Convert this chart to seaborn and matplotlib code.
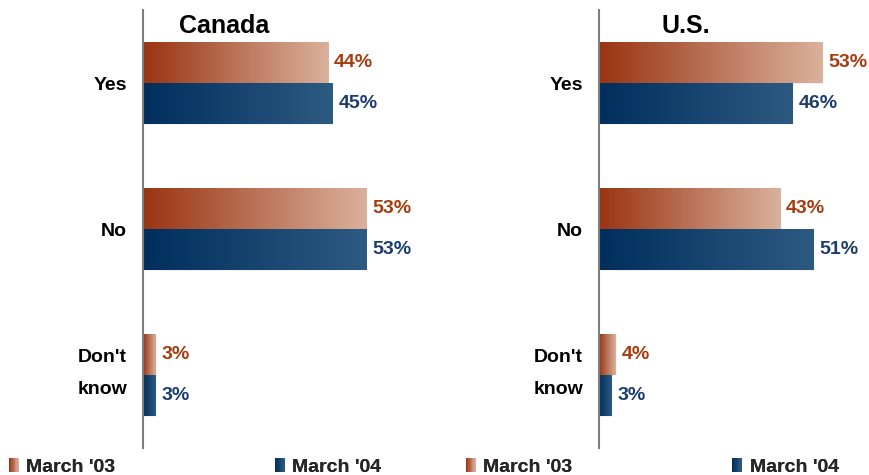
import numpy as np
import pandas as pd
import seaborn as sns
import matplotlib
matplotlib.use("Agg")
import matplotlib.pyplot as plt
import matplotlib.transforms as mtransforms
from matplotlib.colors import LinearSegmentedColormap
from matplotlib.patches import Rectangle, Patch
from matplotlib.legend_handler import HandlerBase

# dati
categorie = ["Yes", "No", "Don't\nknow"]
serie = ["March '03", "March '04"]
canada_03 = [44, 53, 3]
canada_04 = [45, 53, 3]
us_03 = [53, 43, 4]
us_04 = [46, 51, 3]
paesi = ["Canada", "U.S."]

# colori sfumati (inizio, fine) per ogni serie
arancio = ("#9a3412", "#dab19c")
blu = ("#002f5e", "#2d5a81")
col_testo = {"March '03": "#a63c0e", "March '04": "#1b3d6d"}
sfumature = {"March '03": arancio, "March '04": blu}

sns.set_theme(style="white")
plt.rcParams['font.family'] = ['Liberation Sans', 'DejaVu Sans']
plt.rcParams['font.weight'] = 'bold'

df = pd.concat([
    pd.DataFrame({"paese": "Canada", "risposta": categorie, "serie": serie[0], "valore": canada_03}),
    pd.DataFrame({"paese": "Canada", "risposta": categorie, "serie": serie[1], "valore": canada_04}),
    pd.DataFrame({"paese": "U.S.", "risposta": categorie, "serie": serie[0], "valore": us_03}),
    pd.DataFrame({"paese": "U.S.", "risposta": categorie, "serie": serie[1], "valore": us_04}),
])

W, H = 869, 475
fig = plt.figure(figsize=(W / 100, H / 100), dpi=100)

x_assi = [143, 599]
x_titoli = [224, 686]
px_per_perc = 4.21
larg_ax = 60 * px_per_perc

for i, paese in enumerate(paesi):
    ax = fig.add_axes([x_assi[i] / W, 27 / H, larg_ax / W, 438 / H])
    sub = df[df["paese"] == paese]
    sns.barplot(data=sub, y="risposta", x="valore", hue="serie", order=categorie,
                hue_order=serie, orient="h", width=0.56, ax=ax, legend=False,
                edgecolor="white", linewidth=0.6)
    ax.set_xlim(0, 60)
    ax.set_ylim(2.5, -0.5)

    # sfumatura orizzontale dentro ogni barra
    for j, s in enumerate(serie):
        cmap = LinearSegmentedColormap.from_list(s, sfumature[s])
        cont = ax.containers[j]
        for p, v in zip(cont.patches, sub[sub["serie"] == s]["valore"]):
            x0, y0 = p.get_x(), p.get_y()
            w, h = p.get_width(), p.get_height()
            grad = np.linspace(0, 1, 256).reshape(1, -1)
            im = ax.imshow(grad, cmap=cmap, aspect="auto", extent=(x0, x0 + w, y0 + h, y0),
                           zorder=p.get_zorder() + 0.1)
            im.set_clip_path(p)
            ax.text(x0 + w + 1.4, y0 + h / 2, f"{v}%", va="center", ha="left",
                    fontsize=14, fontweight="bold", color=col_testo[s])

    ax.set_xlabel("")
    ax.set_ylabel("")
    ax.set_xticks([])
    ax.tick_params(axis="y", length=0, pad=11.5)
    for lab in ax.get_yticklabels():
        lab.set_fontsize(14)
        lab.set_fontweight("bold")
        lab.set_multialignment("center")
        lab.set_linespacing(2.15)
        lab.set_color("black")
        if "\n" in lab.get_text():
            # "Don't know" un po' più in alto come nell'originale
            lab.set_transform(lab.get_transform() +
                              mtransforms.ScaledTranslation(0, 11 / 100, fig.dpi_scale_trans))
    for lato in ["top", "right", "bottom"]:
        ax.spines[lato].set_visible(False)
    ax.spines["left"].set_color("#7f7f7f")
    ax.spines["left"].set_linewidth(1.5)
    ax.set_xlim(0, 60)
    ax.set_ylim(2.5, -0.5)

    fig.text(x_titoli[i] / W, 1 - 26 / H, paese, ha="center", va="center",
             fontsize=18, fontweight="bold", color="black")


# legenda con quadratino sfumato
class HandlerSfumato(HandlerBase):
    def __init__(self, c0, c1):
        super().__init__()
        self.cmap = LinearSegmentedColormap.from_list("l", [c0, c1])

    def create_artists(self, legend, orig_handle, xdescent, ydescent, width, height, fontsize, trans):
        n = 8
        out = []
        for k in range(n):
            r = Rectangle((-xdescent + k * width / n, -ydescent), width / n + 0.01, height,
                          facecolor=self.cmap(k / (n - 1)), lw=0, transform=trans)
            out.append(r)
        return out


x_legenda = [9, 275, 466, 732]
for k, xl in enumerate(x_legenda):
    s = serie[k % 2]
    h = Patch(label=s)
    leg = fig.legend(handles=[h], labels=[s], loc="lower left",
                     bbox_to_anchor=(xl / W, -0.002), frameon=False,
                     handlelength=0.5, handleheight=0.75, handletextpad=0.4,
                     borderpad=0, borderaxespad=0,
                     handler_map={Patch: HandlerSfumato(*sfumature[s])},
                     prop={"family": ["Liberation Sans"], "weight": "bold", "size": 14})
    fig.add_artist(leg)

fig.savefig("out.png", dpi=100)
plt.close()
